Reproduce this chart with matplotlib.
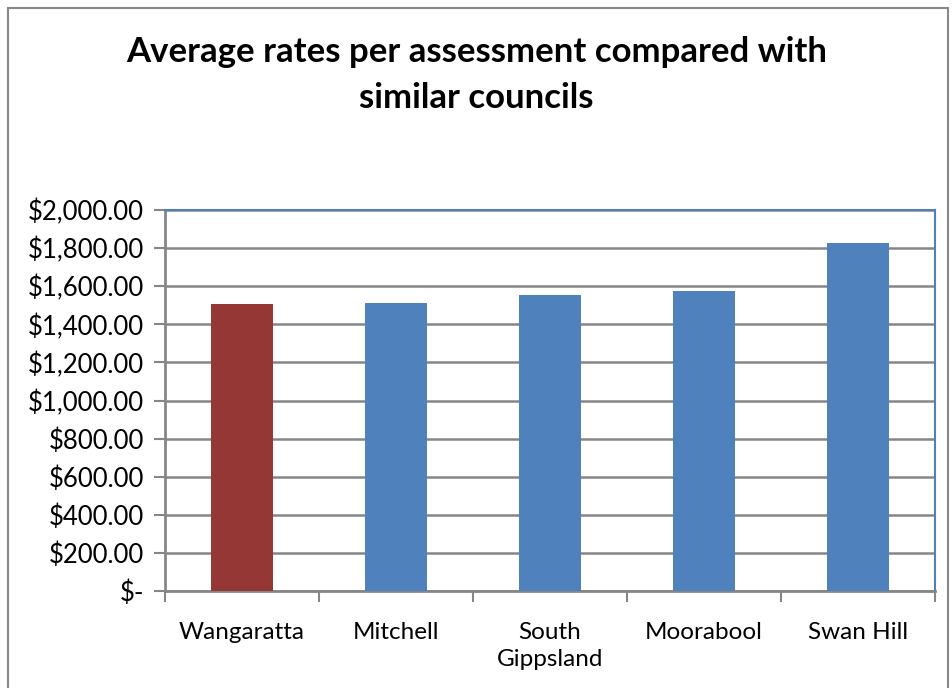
import matplotlib.pyplot as plt
from matplotlib.patches import Rectangle
from matplotlib.ticker import FuncFormatter, FixedLocator

councils = ["Wangaratta", "Mitchell", "South\nGippsland", "Moorabool", "Swan Hill"]
avg_rates = [1505, 1510, 1552, 1575, 1826]
bar_colors = ["#953735", "#4F81BD", "#4F81BD", "#4F81BD", "#4F81BD"]

plt.rcParams['font.family'] = ['Lato', 'DejaVu Sans']

fig = plt.figure(figsize=(9.53, 6.88), dpi=100)
ax = fig.add_axes([165 / 953, 1 - 591 / 688, 770 / 953, 381 / 688])

# outer chart border
fig.patches.append(Rectangle((8 / 953, -0.05), 940 / 953, 1.05 - 8 / 688,
                             transform=fig.transFigure, fill=False,
                             edgecolor="#888888", linewidth=1.5))

x = range(len(councils))
ax.bar(x, avg_rates, width=0.4, color=bar_colors, zorder=3)

ax.set_xlim(-0.5, len(councils) - 0.5)
ax.set_ylim(0, 2000)
ax.set_yticks(range(0, 2001, 200))


def money(v, pos):
    if v == 0:
        return "$-"
    return "${:,.2f}".format(v)


ax.yaxis.set_major_formatter(FuncFormatter(money))
ax.grid(axis="y", color="#868686", linewidth=1.8, zorder=1)

ax.set_xticks(list(x))
ax.set_xticklabels(councils, fontsize=17.5, linespacing=1.4)
ax.tick_params(axis="x", length=0, pad=22)
ax.xaxis.set_minor_locator(FixedLocator([i - 0.5 for i in range(len(councils) + 1)]))
ax.tick_params(axis="x", which="minor", length=8, width=1.5, color="#868686", direction="out")
ax.tick_params(axis="y", labelsize=18.5, length=8, width=1.5, color="#868686", pad=7)

for side in ["top", "right"]:
    ax.spines[side].set_color("#4F81BD")
    ax.spines[side].set_linewidth(1.5)
for side in ["left", "bottom"]:
    ax.spines[side].set_color("#868686")
    ax.spines[side].set_linewidth(2)

fig.text(0.5, 1 - 52 / 688, "Average rates per assessment compared with",
         ha="center", va="center", fontsize=25, fontweight="bold")
fig.text(0.5, 1 - 98 / 688, "similar councils",
         ha="center", va="center", fontsize=25, fontweight="bold")

fig.savefig("out.png", dpi=100)
